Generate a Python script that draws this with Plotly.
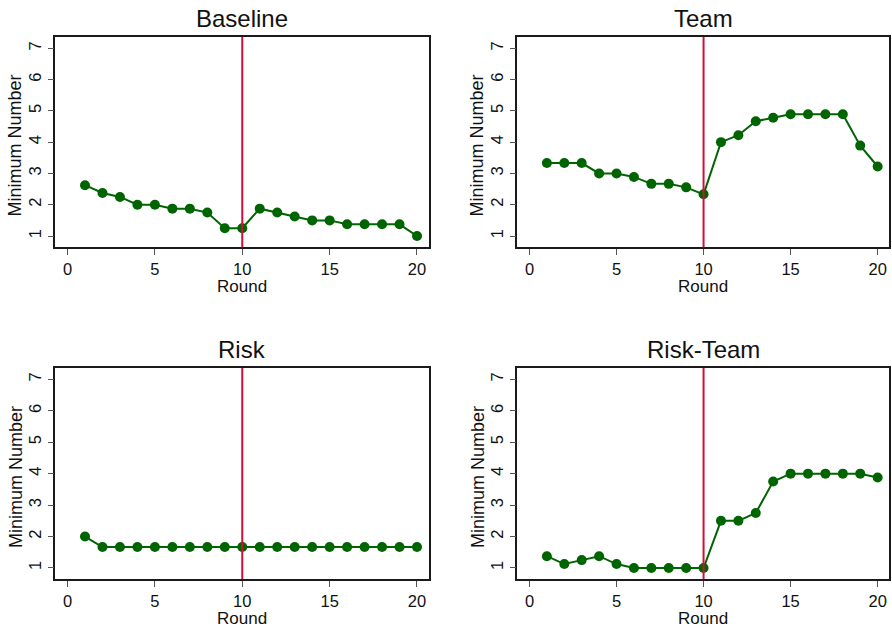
import plotly.graph_objects as go

rounds = list(range(1, 21))
baseline = [2.625, 2.375, 2.25, 2.0, 2.0, 1.875, 1.875, 1.75, 1.25, 1.25,
            1.875, 1.75, 1.625, 1.5, 1.5, 1.375, 1.375, 1.375, 1.375, 1.0]
team = [3.333, 3.333, 3.333, 3.0, 3.0, 2.889, 2.667, 2.667, 2.556, 2.333,
        4.0, 4.222, 4.667, 4.778, 4.889, 4.889, 4.889, 4.889, 3.889, 3.222]
risk = [2.0] + [1.667] * 19
risk_team = [1.375, 1.125, 1.25, 1.375, 1.125, 1.0, 1.0, 1.0, 1.0, 1.0,
             2.5, 2.5, 2.75, 3.75, 4.0, 4.0, 4.0, 4.0, 4.0, 3.875]
titles = ["Baseline", "Team", "Risk", "Risk-Team"]
series = [baseline, team, risk, risk_team]
treatment_round = 10
x_ticks = [0, 5, 10, 15, 20]
y_ticks = [1, 2, 3, 4, 5, 6, 7]

W, H = 892, 629
FONT = "Liberation Sans, Arial, sans-serif"
GREEN = "#006400"
RED = "#D0103A"

# panel boxes in pixels (left, right, top, bottom)
boxes = [(55.3, 428.7, 37, 247.3), (517.3, 889.3, 37, 247.3),
         (55.3, 428.7, 368, 579.3), (517.3, 889.3, 368, 579.3)]

fig = go.Figure()
annotations = []
shapes = []
for i, (ttl, ys, box) in enumerate(zip(titles, series, boxes)):
    l, r, t, b = box
    n = "" if i == 0 else str(i + 1)
    xa, ya = "xaxis" + n, "yaxis" + n
    xr, yr = "x" + n, "y" + n
    fig.add_trace(go.Scatter(x=rounds, y=ys, mode="lines+markers",
                             line=dict(color=GREEN, width=2),
                             marker=dict(color=GREEN, size=10),
                             xaxis=xr, yaxis=yr, showlegend=False))
    common = dict(showline=True, linecolor="#1a1a1a", linewidth=1.5, mirror=True,
                  ticks="outside", ticklen=6, tickwidth=1.3, tickcolor="#555",
                  showgrid=False, zeroline=False,
                  tickfont=dict(family=FONT, size=16.5, color="#111"))
    fig.update_layout(**{
        xa: dict(domain=[l / W, r / W], range=[-0.70, 20.67], tickvals=x_ticks,
                 anchor=yr, **common),
        ya: dict(domain=[1 - b / H, 1 - t / H], range=[0.64, 7.36], tickvals=y_ticks,
                 tickangle=-90, anchor=xr, **common),
    })
    shapes.append(dict(type="line", xref=xr, yref=yr + " domain",
                       x0=treatment_round, x1=treatment_round, y0=0, y1=1,
                       line=dict(color=RED, width=2)))
    cx = (l + r) / 2
    annotations.append(dict(text=ttl, x=cx / W, y=1 - (t - 18.5) / H,
                            xref="paper", yref="paper", showarrow=False,
                            xanchor="center", yanchor="middle",
                            font=dict(family=FONT, size=24, color="#111")))
    annotations.append(dict(text="Round", x=cx / W, y=1 - (b + 39) / H,
                            xref="paper", yref="paper", showarrow=False,
                            xanchor="center", yanchor="middle",
                            font=dict(family=FONT, size=17, color="#111")))
    annotations.append(dict(text="Minimum Number", x=(l - 40) / W, y=1 - ((t + b) / 2 + 3) / H,
                            xref="paper", yref="paper", showarrow=False,
                            xanchor="center", yanchor="middle", textangle=-90,
                            font=dict(family=FONT, size=18, color="#111")))

fig.update_layout(width=W, height=H, margin=dict(l=0, r=0, t=0, b=0),
                  paper_bgcolor="white", plot_bgcolor="white",
                  annotations=annotations, shapes=shapes)
fig.write_html("out.html")
